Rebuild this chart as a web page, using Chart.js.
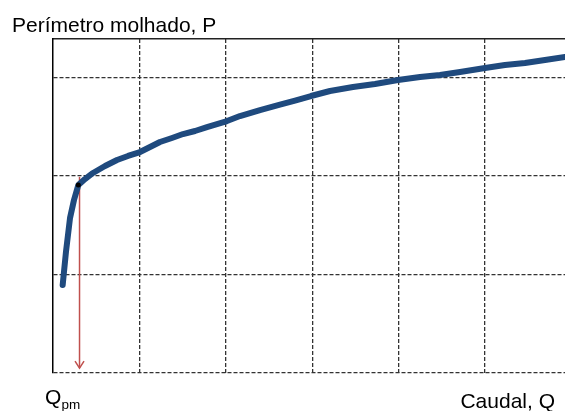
<!DOCTYPE html>
<html>
<head>
<meta charset="utf-8">
<script src="https://cdn.jsdelivr.net/npm/chart.js@4/dist/chart.umd.min.js"></script>
<style>
  html, body { margin: 0; padding: 0; background: #fff; overflow: hidden; }
  #wrap { width: 565px; height: 411px; position: relative; overflow: hidden; }
</style>
</head>
<body>
<div id="wrap"><canvas id="c" width="569" height="411"></canvas></div>
<script>
// Flow rate Q (grid units) and wetted perimeter P (grid units)
const caudalQ = [0.112, 0.150, 0.197, 0.243, 0.293, 0.370, 0.463, 0.602, 0.741, 0.868,
  1.007, 1.123, 1.238, 1.377, 1.505, 1.644, 1.782, 2.014, 2.164, 2.396, 2.627, 2.801,
  2.986, 3.206, 3.472, 3.727, 3.993, 4.248, 4.479, 4.711, 5.000, 5.231, 5.463, 5.694, 5.926];
const perimetroP = [0.890, 1.226, 1.572, 1.755, 1.907, 1.968, 2.030, 2.101, 2.162, 2.203,
  2.243, 2.294, 2.345, 2.386, 2.426, 2.457, 2.497, 2.558, 2.609, 2.670, 2.725, 2.766,
  2.813, 2.864, 2.904, 2.935, 2.976, 3.006, 3.027, 3.057, 3.098, 3.128, 3.149, 3.179, 3.210];
// Q_pm marker point and arrow
const qpmPoint = [0.293, 1.907];
const qpmArrowX = [0.307];
const qpmArrowY = [1.99, 0.045];
// grid tick positions
const xGridTicks = [1, 2, 3, 4, 5];
const yGridTicks = [0, 1, 2, 3];
const xRange = [0, 5.926];
const yRange = [0, 3.393];
// texts
const yTitle = 'Perímetro molhado, P';
const xTitle = 'Caudal, Q';
const qLabel = 'Q';
const qSub = 'pm';

const curve = caudalQ.map((q, i) => ({ x: q, y: perimetroP[i] }));

const FONT = '"Liberation Sans", Arial, sans-serif';

const arrowPlugin = {
  id: 'arrowPlugin',
  beforeDatasetsDraw(chart) {
    const { ctx, scales: { x, y } } = chart;
    const px = x.getPixelForValue(qpmArrowX[0]);
    const y1 = y.getPixelForValue(qpmArrowY[0]);
    const y2 = y.getPixelForValue(qpmArrowY[1]);
    ctx.save();
    ctx.strokeStyle = '#C0504D';
    ctx.lineWidth = 1.5;
    ctx.beginPath();
    ctx.moveTo(px, y1);
    ctx.lineTo(px, y2);
    ctx.stroke();
    ctx.beginPath();
    ctx.moveTo(px - 4.5, y2 - 7);
    ctx.lineTo(px, y2);
    ctx.lineTo(px + 4.5, y2 - 7);
    ctx.stroke();
    ctx.restore();
  }
};

const textPlugin = {
  id: 'textPlugin',
  afterDraw(chart) {
    const { ctx } = chart;
    ctx.save();
    ctx.fillStyle = '#000';
    ctx.textBaseline = 'alphabetic';
    ctx.font = '21px ' + FONT;
    ctx.textAlign = 'left';
    ctx.fillText(yTitle, 12, 32);
    ctx.fillText(qLabel, 45, 404);
    ctx.font = '13.5px ' + FONT;
    ctx.fillText(qSub, 61.5, 409);
    ctx.font = '21px ' + FONT;
    ctx.textAlign = 'right';
    ctx.fillText(xTitle, 555, 408);
    ctx.restore();
  }
};

new Chart(document.getElementById('c'), {
  type: 'line',
  data: {
    datasets: [
      {
        type: 'scatter',
        data: [{ x: qpmPoint[0], y: qpmPoint[1] }],
        pointRadius: 2.5,
        pointBackgroundColor: '#000',
        pointBorderWidth: 0,
        order: 0
      },
      {
        data: curve,
        borderColor: '#1F4A7E',
        borderWidth: 6,
        pointRadius: 0,
        tension: 0,
        fill: false,
        borderCapStyle: 'round',
        borderJoinStyle: 'round',
        order: 1
      }
    ]
  },
  options: {
    responsive: false,
    animation: false,
    events: [],
    layout: { padding: { left: 53, top: 39, right: 0, bottom: 38.5 } },
    plugins: { legend: { display: false }, tooltip: { enabled: false }, title: { display: false } },
    scales: {
      x: {
        type: 'linear',
        position: 'bottom',
        min: xRange[0],
        max: xRange[1],
        afterBuildTicks: (s) => { s.ticks = xGridTicks.map(v => ({ value: v })); },
        ticks: { display: false },
        grid: { color: '#333', lineWidth: 1.3, drawTicks: false },
        border: { display: false, dash: [4, 2] }
      },
      xTop: {
        type: 'linear',
        position: 'top',
        display: true,
        min: 0, max: 1,
        ticks: { display: false },
        grid: { display: false, drawTicks: false },
        border: { display: true, color: '#222', width: 1.5 }
      },
      y: {
        type: 'linear',
        position: 'left',
        min: yRange[0],
        max: yRange[1],
        afterBuildTicks: (s) => { s.ticks = yGridTicks.map(v => ({ value: v })); },
        ticks: { display: false },
        grid: { color: '#333', lineWidth: 1.3, drawTicks: false },
        border: { display: true, color: '#000', width: 1.5, dash: [4, 2] }
      }
    }
  },
  plugins: [arrowPlugin, textPlugin]
});
</script>
</body>
</html>
